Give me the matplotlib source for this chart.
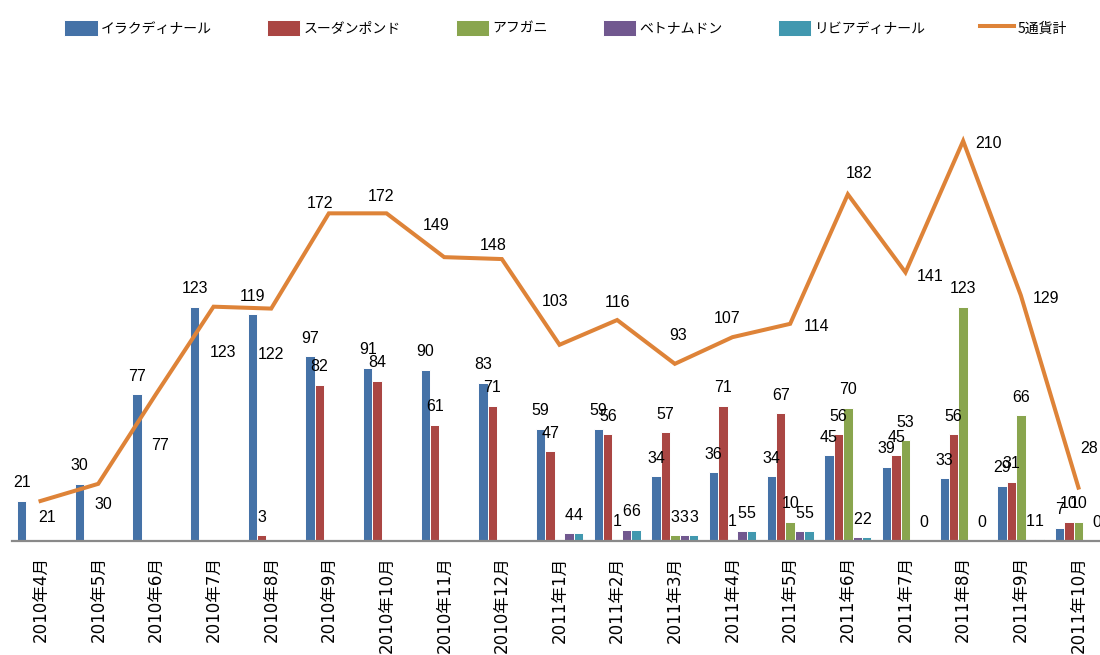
import matplotlib
matplotlib.use('Agg')
import matplotlib.pyplot as plt
import numpy as np

# monthly counts per currency (None = no data point in the sheet)
months = ['2010年4月', '2010年5月', '2010年6月', '2010年7月', '2010年8月', '2010年9月',
          '2010年10月', '2010年11月', '2010年12月', '2011年1月', '2011年2月', '2011年3月',
          '2011年4月', '2011年5月', '2011年6月', '2011年7月', '2011年8月', '2011年9月',
          '2011年10月']

iraq = [21, 30, 77, 123, 119, 97, 91, 90, 83, 59, 59, 34, 36, 34, 45, 39, 33, 29, 7]
sudan = [None, None, None, None, 3, 82, 84, 61, 71, 47, 56, 57, 71, 67, 56, 45, 56, 31, 10]
afghani = [None] * 10 + [1, 3, 1, 10, 70, 53, 123, 66, 10]
vietnam = [None] * 9 + [4, 6, 3, 5, 5, 2, None, None, 1, None]
libya = [None] * 9 + [4, 6, 3, 5, 5, 2, 0, 0, 1, 0]
total = [21, 30, 77, 123, 122, 172, 172, 149, 148, 103, 116, 93, 107, 114, 182, 141, 210, 129, 28]

series_names = ['イラクディナール', 'スーダンポンド', 'アフガニ', 'ベトナムドン', 'リビアディナール']
total_name = '5通貨計'

colors = ['#4572A7', '#AA4643', '#89A54E', '#71588F', '#4198AF']
line_color = '#DE8338'

# where the line labels sit relative to their point (pixels, x right / y down)
line_label_offsets = [(7, 17), (5, 21), (4, 51), (9, 46), (0, 46), (-9, -10), (-6, -17),
                      (-8, -32), (-9, -14), (-4, -43), (0, -18), (3, -28), (-5, -19),
                      (26, 3), (11, -21), (25, 4), (25, 3), (25, 3), (11, -39)]

plt.rcParams['font.family'] = ['DejaVu Sans', 'Noto Sans CJK JP']
num_font = ['Liberation Sans Narrow', 'Liberation Sans', 'DejaVu Sans']


def plot_chart():
    fig = plt.figure(figsize=(11, 6.55), dpi=100)
    ax = fig.add_axes([0.01064, 0.17405, 0.996, 0.7271])

    x = np.arange(len(months))
    slot = 0.163
    all_series = [iraq, sudan, afghani, vietnam, libya]

    for i, (vals, name, c) in enumerate(zip(all_series, series_names, colors)):
        xs = x + (i - 2) * slot
        heights = [v if v is not None else 0 for v in vals]
        ax.bar(xs, heights, width=slot, color=c, edgecolor='white', linewidth=0.7,
               label=name, zorder=2)
        for xi, v in zip(xs, vals):
            if v is None:
                continue
            ax.annotate(str(v), (xi, v), xytext=(0, 18), textcoords='offset pixels',
                        ha='center', va='center', fontsize=11.5, family=num_font,
                        annotation_clip=False, zorder=5)

    ax.plot(x, total, color=line_color, linewidth=2.9, label=total_name, zorder=3,
            solid_joinstyle='miter')
    for xi, v, (dx, dy) in zip(x, total, line_label_offsets):
        ax.annotate(str(v), (xi, v), xytext=(dx, -dy), textcoords='offset pixels',
                    ha='center', va='center', fontsize=11.5, family=num_font,
                    annotation_clip=False, zorder=5)

    ax.set_xlim(-0.5, len(months) - 0.5)
    ax.set_ylim(0, 250)
    ax.set_xticks(x)
    ax.set_xticklabels(months, rotation=90, va='top', ha='center', fontsize=12)
    ax.tick_params(axis='x', length=0, pad=11)
    ax.set_yticks([])
    for s in ['top', 'right', 'left']:
        ax.spines[s].set_visible(False)
    ax.spines['bottom'].set_color('#898989')
    ax.spines['bottom'].set_linewidth(1.6)
    ax.spines['bottom'].set_zorder(4)

    handles, labels = ax.get_legend_handles_labels()
    # bars first, then the line, like the original
    order = [1, 2, 3, 4, 5, 0]
    fig.legend([handles[k] for k in order], [labels[k] for k in order],
               loc='center', bbox_to_anchor=(0.514, 1 - 28 / 655), ncol=6,
               frameon=False, borderaxespad=0, handlelength=2.4, handleheight=1.4,
               handletextpad=0.25, columnspacing=3.95,
               prop={'family': ['Noto Sans CJK JP', 'DejaVu Sans'], 'size': 10})

    fig.savefig('out.png', dpi=100)


if __name__ == '__main__':
    plot_chart()
